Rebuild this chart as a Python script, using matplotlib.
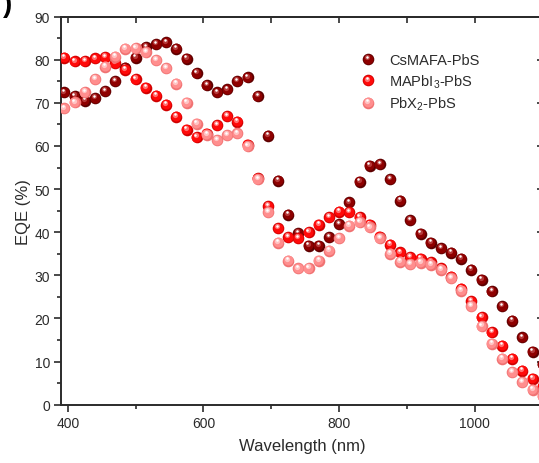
import matplotlib
matplotlib.use("Agg")
import matplotlib.pyplot as plt
import matplotlib.ticker as ticker
from matplotlib.transforms import offset_copy
from matplotlib.legend_handler import HandlerBase
from matplotlib.lines import Line2D

plt.rcParams["font.family"] = ["Liberation Sans", "DejaVu Sans"]
plt.rcParams["mathtext.fontset"] = "custom"
plt.rcParams["mathtext.rm"] = "Liberation Sans"
plt.rcParams["mathtext.it"] = "Liberation Sans:italic"

DPI = 100
INK = "#2b2b2b"

# ── Data ───────────────────────────────────────────────────────
wavelength = [395, 410, 425, 440, 455, 470, 485, 500, 515, 530, 545, 560,
              575, 590, 605, 620, 635, 650, 665, 680, 695, 710, 725, 740,
              755, 770, 785, 800, 815, 830, 845, 860, 875, 890, 905, 920,
              935, 950, 965, 980, 995, 1010, 1025, 1040, 1055, 1070, 1085, 1100]

eqe_csmafa = [72.4, 71.5, 70.5, 71.1, 72.7, 75.0, 78.1, 80.4, 82.9, 83.6,
              84.0, 82.5, 80.2, 76.9, 74.1, 72.4, 73.1, 75.0, 75.9, 71.5,
              62.4, 51.9, 44.1, 39.8, 36.9, 36.9, 38.8, 41.9, 46.9, 51.7,
              55.4, 55.8, 52.3, 47.3, 42.8, 39.6, 37.5, 36.3, 35.2, 33.9,
              31.3, 29.0, 26.3, 22.8, 19.5, 15.6, 12.3, 9.4]

eqe_mapbi3 = [80.5, 79.6, 79.7, 80.3, 80.6, 79.2, 77.7, 75.5, 73.5, 71.7,
              69.6, 66.8, 63.8, 62.0, 62.8, 64.8, 66.9, 65.6, 60.3, 52.5,
              46.0, 40.9, 38.8, 38.6, 40.0, 41.7, 43.5, 44.8, 44.6, 43.5,
              41.7, 39.0, 37.1, 35.3, 34.2, 33.8, 33.0, 31.7, 29.7, 26.9,
              24.0, 20.3, 16.8, 13.7, 10.6, 7.9, 6.0, 4.2]

eqe_pbx2 = [68.7, 70.1, 72.5, 75.5, 78.4, 80.7, 82.5, 82.7, 81.7, 79.9,
            78.0, 74.4, 70.0, 65.1, 62.6, 61.3, 62.5, 62.9, 59.9, 52.3,
            44.6, 37.5, 33.4, 31.6, 31.7, 33.4, 35.7, 38.6, 41.5, 42.3,
            41.1, 38.6, 35.0, 33.2, 32.6, 32.9, 32.4, 31.3, 29.3, 26.4,
            22.8, 18.2, 14.1, 10.6, 7.5, 5.2, 3.5, 2.0]

labels = ["CsMAFA-PbS", "MAPbI$_3$-PbS", "PbX$_2$-PbS"]

# shading for the "sphere" markers: rim, body, glow, shine
shades = [
    {"rim": "#5e0000", "body": "#8e0000", "glow": "#b53a3a", "shine": "#ffffff"},
    {"rim": "#d00000", "body": "#ff0a0a", "glow": "#ff7070", "shine": "#ffffff"},
    {"rim": "#f07272", "body": "#ff8e8e", "glow": "#ffc4c4", "shine": "#ffffff"},
]

# (diameter px, dx px, dy px, shade key)
LAYERS = [
    (11.6, 0.0, 0.0, "rim"),
    (9.9, -0.4, 0.5, "body"),
    (5.2, -1.0, 1.9, "glow"),
    (2.5, -1.2, 2.5, "shine"),
]


class Shade:
    def __init__(self, colors):
        self.colors = colors


class SphereHandler(HandlerBase):
    def create_artists(self, legend, orig_handle, xdescent, ydescent,
                       width, height, fontsize, trans):
        cx = 0.5 * width - xdescent
        cy = 0.5 * height - ydescent
        arts = []
        for d, dx, dy, key in LAYERS:
            m = Line2D([cx + dx * 72 / DPI], [cy + dy * 72 / DPI],
                       marker="o", ms=d * 72 / DPI, ls="none",
                       mfc=orig_handle.colors[key], mec="none",
                       transform=trans)
            arts.append(m)
        return arts


fig = plt.figure(figsize=(5.39, 4.64), dpi=DPI)
ax = fig.add_axes([61 / 539, 58.3 / 464, 481.7 / 539, 388.1 / 464])


def draw_spheres(x, y, colors, z):
    for i, (d, dx, dy, key) in enumerate(LAYERS):
        tr = offset_copy(ax.transData, fig=fig, x=dx, y=dy, units="dots")
        ax.scatter(x, y, s=(d * 72 / DPI) ** 2, c=colors[key],
                   linewidths=0, transform=tr, zorder=z + i * 0.1)


for k, series in enumerate([eqe_csmafa, eqe_mapbi3, eqe_pbx2]):
    draw_spheres(wavelength, series, shades[k], 3 + k)

ax.set_xlim(390, 1100)
ax.set_ylim(0, 90)
ax.xaxis.set_major_locator(ticker.MultipleLocator(200))
ax.xaxis.set_minor_locator(ticker.MultipleLocator(100))
ax.yaxis.set_major_locator(ticker.MultipleLocator(10))
ax.yaxis.set_minor_locator(ticker.MultipleLocator(5))
ax.tick_params(which="major", direction="out", length=5, width=1.2,
               color=INK, labelcolor=INK, labelsize=10, pad=3,
               top=False, right=False)
ax.tick_params(which="minor", direction="out", length=2.8, width=1.2,
               color=INK, top=False, right=False)
for sp in ax.spines.values():
    sp.set_linewidth(1.4)
    sp.set_color(INK)

secx = ax.secondary_xaxis("top")
secx.xaxis.set_major_locator(ticker.MultipleLocator(100))
secx.tick_params(direction="in", length=4.5, width=1.2, color=INK,
                 labeltop=False, labelbottom=False)
secx.spines["top"].set_linewidth(1.4)
secx.spines["top"].set_color(INK)

secy = ax.secondary_yaxis("right")
secy.yaxis.set_major_locator(ticker.MultipleLocator(10))
secy.tick_params(direction="in", length=4.5, width=1.2, color=INK,
                 labelright=False, labelleft=False)
secy.spines["right"].set_linewidth(1.4)
secy.spines["right"].set_color(INK)

ax.set_xlabel("Wavelength (nm)", fontsize=12, color=INK, labelpad=6)
ax.set_ylabel("EQE (%)", fontsize=12, color=INK, labelpad=2)

leg = ax.legend([Shade(c) for c in shades], labels,
                handler_map={Shade: SphereHandler()},
                loc="upper left", bbox_to_anchor=(0.622, 0.905),
                frameon=False, fontsize=10.5, borderpad=0, borderaxespad=0,
                handlelength=1.0, handletextpad=0.95, labelspacing=0.35)
for t in leg.get_texts():
    t.set_color(INK)

fig.text(12 / 539, 1 - 12 / 464, ")", ha="right", va="baseline",
         fontsize=20, fontweight="bold", color="black")

fig.savefig("out.png", dpi=DPI)
